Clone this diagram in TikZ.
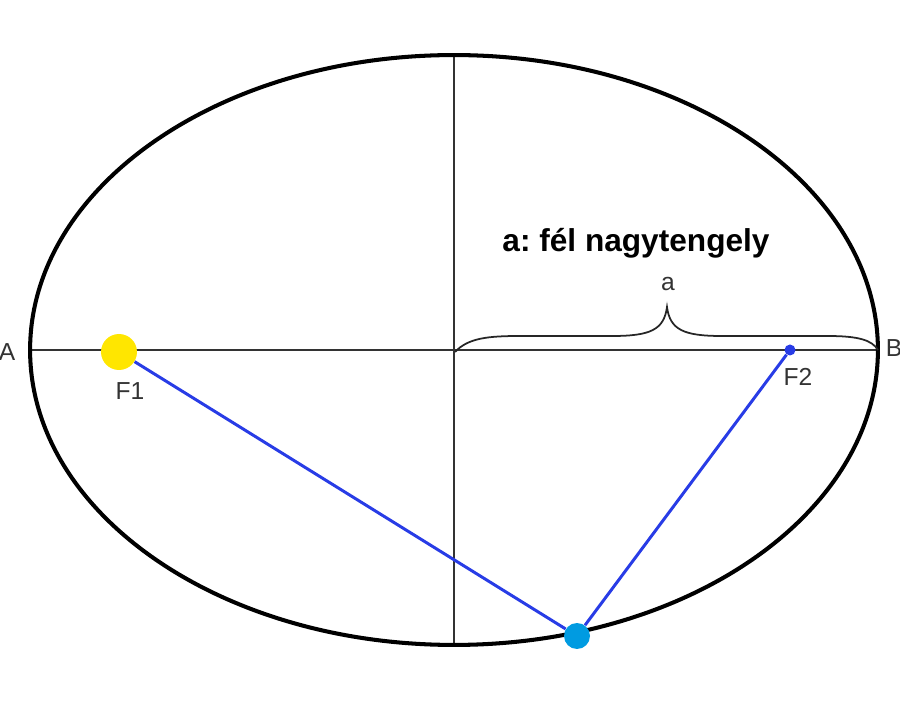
\documentclass[tikz,border=0pt]{standalone}
\usepackage{fontspec}
\setmainfont{Liberation Sans}
\usepackage{tikz}
\definecolor{sunyellow}{RGB}{255,230,0}
\definecolor{orbitblue}{RGB}{40,60,230}
\definecolor{planetcyan}{RGB}{0,155,225}
\frenchspacing

\begin{document}
\begin{tikzpicture}[x=0.02cm, y=-0.02cm,
	dot/.style={circle,fill,inner sep=0pt},
	lbl/.style={font=\fontsize{14}{16}\selectfont, text=black!80}]
				\useasboundingbox (0,0) rectangle (900,705);
				% axes
				\coordinate (left) at (30,350);
				\coordinate (right) at (878,350);
				\coordinate (top) at (454,55);
				\coordinate (bottom) at (454,645);
				\draw [black!80, line width=1.1pt] (left) -- (right);
				\draw [black!80, line width=1.1pt] (top) -- (bottom);
				\draw [line width=2.3pt] (454,350) ellipse [x radius=8.48cm, y radius=5.9cm];
				\node [lbl, anchor=base] (A) at (7,361) {A};
				\node [lbl, anchor=base] (B) at (894,357) {B};
				% brace
				\draw [black!85, line width=1pt] (455,352) .. controls (468,338) and (488,336) .. (520,336) -- (612,336)
					.. controls (650,336) and (664,330) .. (667,307)
					.. controls (670,330) and (684,336) .. (722,336) -- (828,336)
					.. controls (858,336) and (872,340) .. (878,350);
				\node [lbl, anchor=base] (alabel) at (668,291) {a};
				\node [font=\fontsize{18}{20}\selectfont\bfseries, anchor=base] (title) at (636,252) {a: fél nagytengely};
				% foci and planet
				\node [dot, fill=sunyellow, minimum size=0.72cm] (F1) at (119,352) {};
				\node [dot, fill=orbitblue, minimum size=0.22cm] (F2) at (790,350) {};
				\node [dot, fill=planetcyan, minimum size=0.52cm] (P) at (577,636) {};
				\draw [orbitblue, line width=1.7pt] (F1) -- (P) -- (F2);
				\node [lbl, anchor=base] (F1label) at (130,400) {F1};
				\node [lbl, anchor=base] (F2label) at (798,386) {F2};
			\end{tikzpicture}
\end{document}
